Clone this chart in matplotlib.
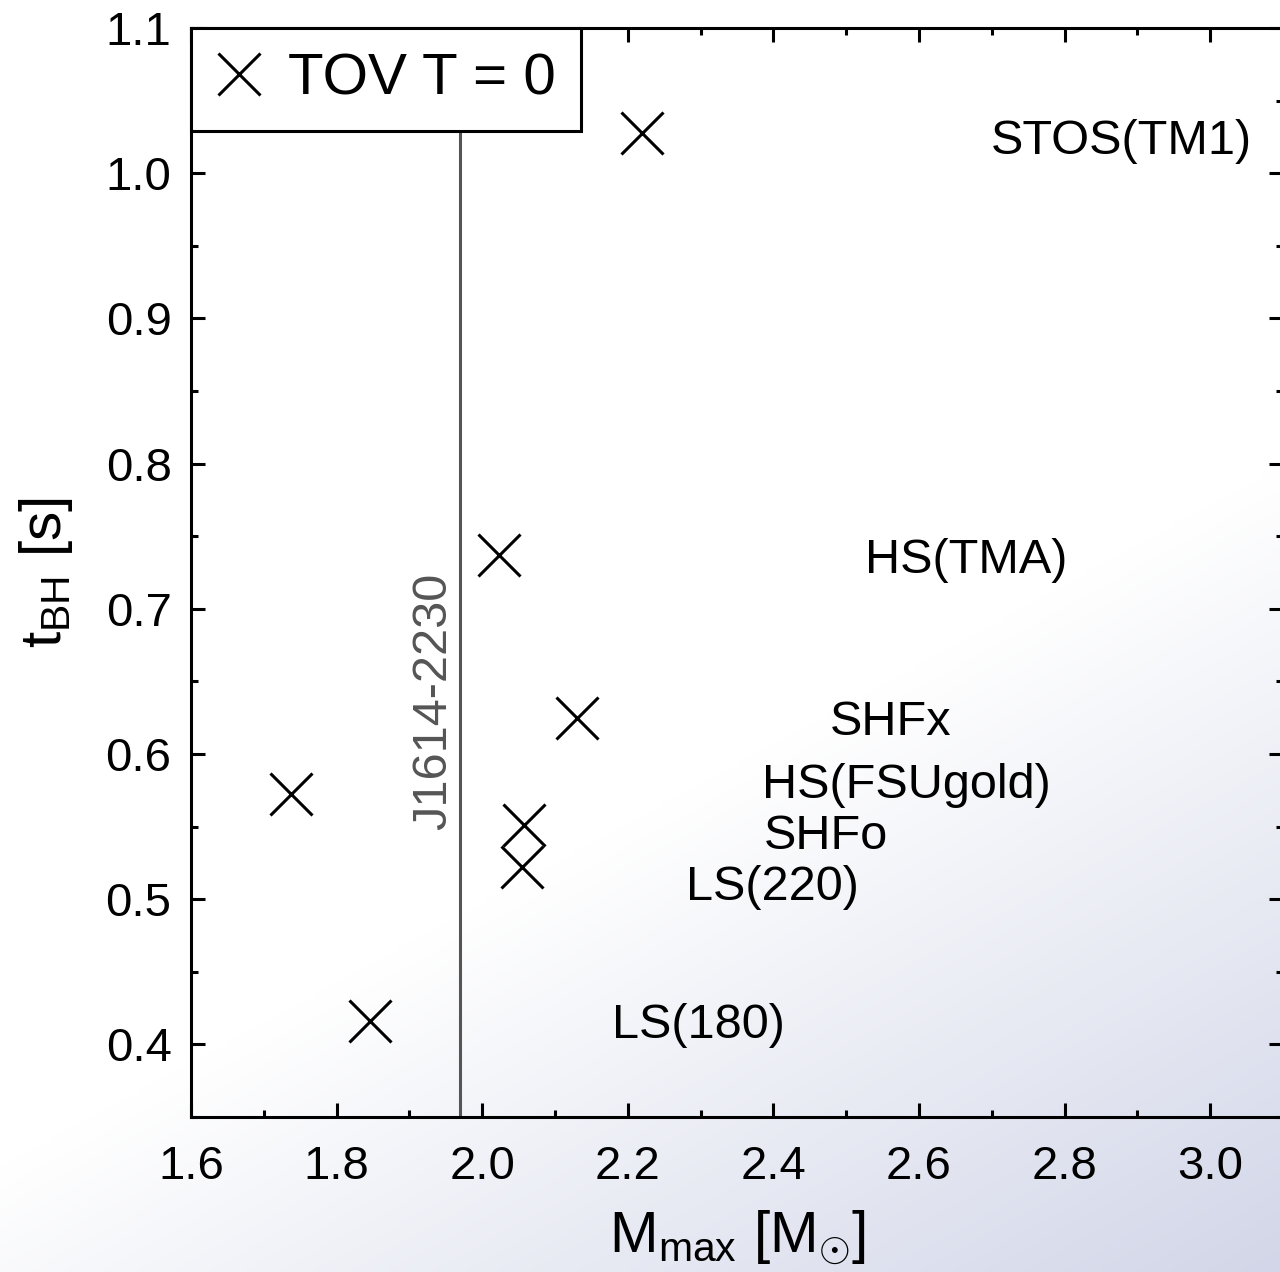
import numpy as np
import matplotlib
matplotlib.use("Agg")
import matplotlib.pyplot as plt
from matplotlib.lines import Line2D
from matplotlib.ticker import MultipleLocator, FormatStrFormatter

plt.rcParams['font.family'] = ['Liberation Sans', 'DejaVu Sans']
plt.rcParams['mathtext.fontset'] = 'custom'
plt.rcParams['mathtext.rm'] = 'Liberation Sans'
plt.rcParams['mathtext.it'] = 'Liberation Sans:italic'
plt.rcParams['mathtext.bf'] = 'Liberation Sans:bold'

# Data
eos_names = ["STOS(TM1)", "HS(TMA)", "SHFx", "HS(FSUgold)", "SHFo", "LS(220)", "LS(180)"]
m_max = [2.22, 2.023, 2.130, 1.737, 2.057, 2.055, 1.846]
t_bh = [1.028, 0.737, 0.625, 0.5725, 0.551, 0.522, 0.416]
label_x = [2.699, 2.526, 2.478, 2.384, 2.387, 2.280, 2.178]
label_y = [1.022, 0.733, 0.622, 0.578, 0.543, 0.508, 0.413]
j1614_mass = 1.97

W, H = 1280, 1272
fig = plt.figure(figsize=(W / 100, H / 100), dpi=100)

# background gradient
bg = fig.add_axes([0, 0, 1, 1], zorder=-10)
xx, yy = np.meshgrid(np.linspace(0, 1, 320), np.linspace(0, 1, 318))
u = 0.55 * xx + yy
t = np.clip((u - 0.92) / 0.63, 0, 1)
c0 = np.array([1.0, 1.0, 1.0])
c1 = np.array([0xd2, 0xd6, 0xe8]) / 255.0
img = c0[None, None, :] * (1 - t[..., None]) + c1[None, None, :] * t[..., None]
bg.imshow(img, aspect='auto', extent=[0, 1, 0, 1], origin='upper', interpolation='bilinear')
bg.set_axis_off()

left = 191 / W
right = 1283 / W
bottom = 1 - 1117 / H
top = 1 - 28 / H
ax = fig.add_axes([left, bottom, right - left, top - bottom])
ax.set_facecolor('none')

ax.set_xlim(1.6, 3.1)
ax.set_ylim(0.35, 1.1)

ax.axvline(j1614_mass, color='#555555', lw=2.2, zorder=1)
ax.text(1.933, 0.548, 'J1614-2230', rotation=90, ha='center', va='bottom',
        fontsize=35, color='#555555')

ax.plot(m_max, t_bh, linestyle='none', marker='x', markersize=30,
        markeredgewidth=2.2, color='black', zorder=3)

for name, lx, ly in zip(eos_names, label_x, label_y):
    ax.text(lx, ly, name, ha='left', va='center', fontsize=35, color='black')

for s in ax.spines.values():
    s.set_linewidth(2.2)

ax.xaxis.set_major_locator(MultipleLocator(0.2))
ax.xaxis.set_minor_locator(MultipleLocator(0.1))
ax.yaxis.set_major_locator(MultipleLocator(0.1))
ax.yaxis.set_minor_locator(MultipleLocator(0.05))
ax.tick_params(which='both', direction='in', top=True, right=True, width=2.2)
ax.tick_params(which='major', length=10, labelsize=34)
ax.tick_params(which='minor', length=5)
ax.tick_params(axis='x', which='major', pad=20)
ax.tick_params(axis='y', which='major', pad=14)
ax.xaxis.set_major_formatter(FormatStrFormatter('%.1f'))
ax.yaxis.set_major_formatter(FormatStrFormatter('%.1f'))

ax.set_xlabel(r'$\mathrm{M_{max}\ [M_{\odot}]}$', fontsize=42, labelpad=14)
ax.set_ylabel(r'$\mathrm{t_{BH}\ [s]}$', fontsize=42, labelpad=22)

handle = Line2D([], [], linestyle='none', marker='x', markersize=30,
                markeredgewidth=2.2, color='black')
leg = ax.legend([handle], ['TOV T = 0'], loc='upper left', fontsize=42,
                frameon=True, fancybox=False, edgecolor='black', framealpha=1,
                borderaxespad=0, borderpad=0.42, handlelength=0.8,
                handletextpad=0.45)
leg.get_frame().set_linewidth(2.2)
leg.set_zorder(5)

fig.savefig('out.png', dpi=100)
